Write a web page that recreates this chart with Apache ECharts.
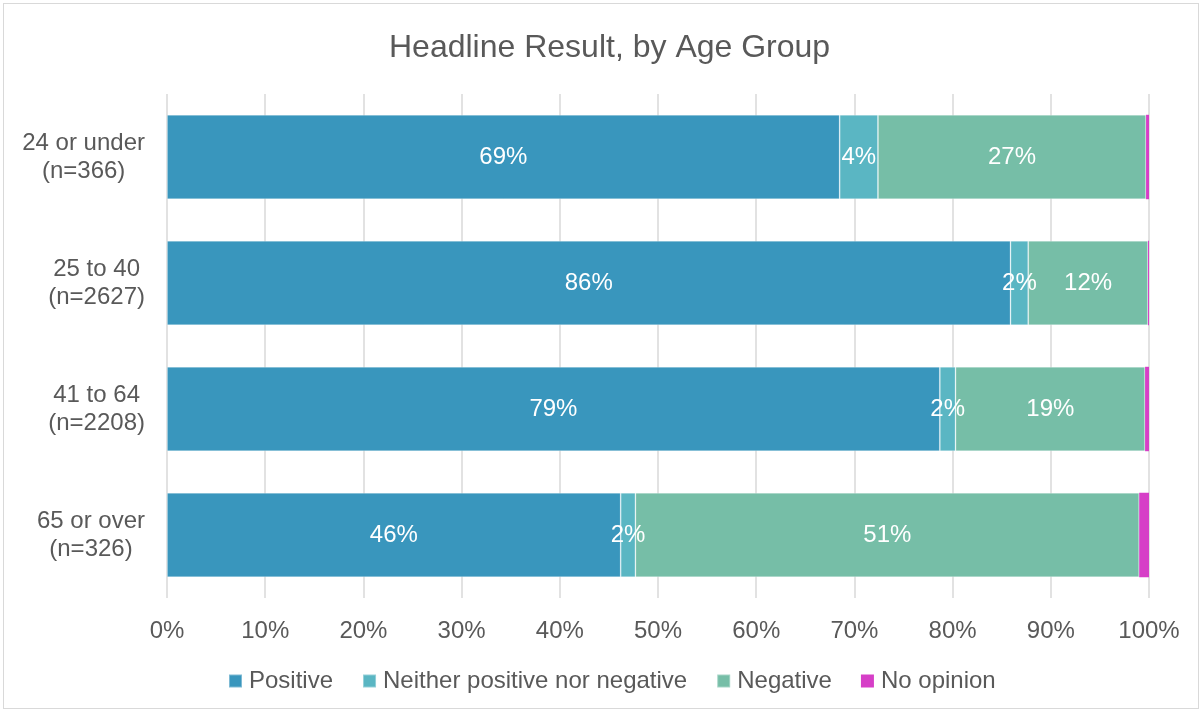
<!DOCTYPE html>
<html>
<head>
<meta charset="utf-8">
<script src="https://cdn.jsdelivr.net/npm/echarts@6/dist/echarts.min.js"></script>
<style>
html,body{margin:0;padding:0;background:#fff;}
#frame{position:absolute;left:3px;top:3px;width:1196px;height:706px;border:1px solid #d9d9d9;box-sizing:border-box;}
#chart{position:absolute;left:0;top:0;width:1203px;height:713px;}
</style>
</head>
<body>
<div id="frame"></div>
<div id="chart"></div>
<script>
const categories = ['24 or under\n(n=366)', '25 to 40\n(n=2627)', '41 to 64\n(n=2208)', '65 or over\n(n=326)'];
const seriesNames = ['Positive', 'Neither positive nor negative', 'Negative', 'No opinion'];
const positive = [68.5, 85.9, 78.7, 46.2];
const neither = [3.9, 1.8, 1.6, 1.5];
const negative = [27.3, 12.2, 19.3, 51.3];
const noOpinion = [0.3, 0.1, 0.4, 1.0];
const colors = ['#3996bd', '#5ab6c3', '#76bea7', '#d63fc7'];
const xTicks = [0, 10, 20, 30, 40, 50, 60, 70, 80, 90, 100];

const dataSets = [positive, neither, negative, noOpinion];
const font = '"Liberation Sans", Arial, sans-serif';
const textColor = '#595959';

const chart = echarts.init(document.getElementById('chart'));
chart.setOption({
  animation: false,
  textStyle: { fontFamily: font },
  title: {
    text: 'Headline Result, by Age Group',
    left: 384, top: 27,
    textStyle: { fontSize: 32, fontWeight: 'normal', color: textColor, fontFamily: font }
  },
  legend: {
    bottom: 15, left: 223,
    itemWidth: 13, itemHeight: 13, itemGap: 29,
    icon: 'rect',
    textStyle: { fontSize: 24, color: textColor, fontFamily: font, padding: [0, 0, 0, 2] },
    data: seriesNames
  },
  grid: { left: 167, right: 54, top: 94, bottom: 115, containLabel: false },
  xAxis: {
    type: 'value', min: 0, max: 100, interval: 10,
    axisLine: { show: false }, axisTick: { show: false },
    splitLine: { show: true, lineStyle: { color: '#d9d9d9', width: 1.5 } },
    axisLabel: {
      fontSize: 24, color: textColor, margin: 21,
      formatter: v => xTicks.includes(v) ? v + '%' : ''
    }
  },
  yAxis: {
    type: 'category', inverse: true, data: categories,
    axisLine: { show: false }, axisTick: { show: false },
    axisLabel: {
      fontSize: 24, color: textColor, margin: 22, align: 'right',
      formatter: v => v.split('\n').map(s => '{c|' + s + '}').join('\n'),
      rich: { c: { fontSize: 24, color: textColor, fontFamily: font, align: 'center', lineHeight: 28 } }
    }
  },
  series: dataSets.map((d, i) => ({
    name: seriesNames[i],
    type: 'bar', stack: 'total',
    barCategoryGap: '33%',
    data: d,
    itemStyle: { color: colors[i], borderColor: 'rgba(255,255,255,0.35)', borderWidth: i === 3 ? 0 : 0.8 },
    label: {
      show: i < 3, position: 'inside', color: '#fff', fontSize: 24, fontFamily: font,
      formatter: p => Math.round(p.value) + '%'
    }
  }))
});
</script>
</body>
</html>
